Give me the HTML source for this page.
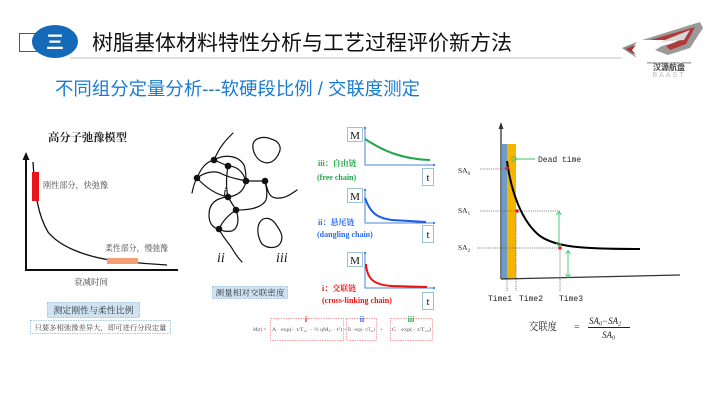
<!DOCTYPE html>
<html><head><meta charset="utf-8"><style>
html,body{margin:0;padding:0;background:#fff;}
svg{display:block;}
.cjk{font-family:"Liberation Sans","Noto Sans CJK SC",sans-serif;}
.ser{font-family:"Liberation Serif","Noto Serif CJK SC",serif;}
.mono{font-family:"Liberation Mono","Noto Sans CJK SC",monospace;}
</style></head><body>
<svg width="720" height="405" viewBox="0 0 720 405" xmlns="http://www.w3.org/2000/svg">
<rect width="720" height="405" fill="#fff"/>
<!-- header -->
<rect x="19.5" y="33.5" width="18" height="18" fill="#fff" stroke="#555" stroke-width="1"/>
<line x1="70" y1="58" x2="622" y2="58" stroke="#cfcfcf" stroke-width="1.2"/>
<ellipse cx="55" cy="41.5" rx="23" ry="16.5" fill="#1469b8"/>
<text x="55" y="48.5" text-anchor="middle" class="cjk" font-size="18" font-weight="bold" fill="#fff">三</text>
<text x="92" y="50" class="cjk" font-size="21" fill="#111" textLength="420" lengthAdjust="spacingAndGlyphs">树脂基体材料特性分析与工艺过程评价新方法</text>
<text x="55" y="95" class="cjk" font-size="18" fill="#1a7bd2" textLength="365" lengthAdjust="spacingAndGlyphs">不同组分定量分析---软硬段比例 / 交联度测定</text>
<!-- logo -->
<g>
<polygon points="622,48 637,42 630,50 637,58" fill="#8a8a8a"/>
<polygon points="626,49 636,45 632,50 636,55" fill="#a33"/>
<polygon points="642,40 700,22 703,28 690,48 668,55 655,50 662,46 684,40 660,40" fill="#9a9a9a"/>
<polygon points="650,40 695,27 686,44 670,50 666,46 680,40" fill="#b03a3a"/>
<polygon points="660,42 690,30 684,40" fill="#d8d8d8"/>
<text x="669" y="63" text-anchor="middle" class="cjk" font-size="5" fill="#999">▂▂ ▂▂ ▂▂ ▂▂</text>
<text x="669" y="70" text-anchor="middle" class="cjk" font-size="8" fill="#444" font-weight="bold">汉源航盘</text>
<text x="669" y="77" text-anchor="middle" class="cjk" font-size="7" fill="#bbb" letter-spacing="2">BAAST</text>
</g>

<!-- left panel -->
<text x="48" y="141" class="ser" font-size="11" font-weight="bold" fill="#222" textLength="79" lengthAdjust="spacingAndGlyphs">高分子弛豫模型</text>
<line x1="26" y1="157" x2="26" y2="270" stroke="#111" stroke-width="2"/>
<polygon points="26,152 22.5,160 29.5,160" fill="#111"/>
<line x1="25" y1="270" x2="178" y2="270" stroke="#111" stroke-width="2"/>
<path d="M33,162 C35,195 38,215 48,232 C60,247 85,256 110,260 C135,263 150,264 167,265" fill="none" stroke="#111" stroke-width="1.3"/>
<rect x="32" y="172" width="7" height="29" fill="#e8141c"/>
<rect x="107" y="258" width="31" height="6" fill="#f4a072"/>
<text x="43" y="188" class="ser" font-size="8.5" fill="#444" textLength="65" lengthAdjust="spacingAndGlyphs">刚性部分，快弛豫</text>
<text x="105" y="251" class="ser" font-size="8.5" fill="#444" textLength="63" lengthAdjust="spacingAndGlyphs">柔性部分，慢弛豫</text>
<text x="74" y="285" class="ser" font-size="8.5" fill="#444" textLength="34" lengthAdjust="spacingAndGlyphs">衰减时间</text>
<rect x="47.5" y="302.5" width="92" height="15" fill="#cfe3f3" stroke="#8cb8da" stroke-width="0.8" stroke-dasharray="1.5,1"/>
<text x="93.5" y="313.5" text-anchor="middle" class="ser" font-size="9" fill="#333" textLength="80" lengthAdjust="spacingAndGlyphs">测定刚性与柔性比例</text>
<rect x="30.5" y="320.5" width="140" height="13" fill="#fff" stroke="#8cb8da" stroke-width="0.8" stroke-dasharray="1.5,1"/>
<text x="100.5" y="330" text-anchor="middle" class="ser" font-size="7" fill="#444" textLength="132" lengthAdjust="spacingAndGlyphs">只要多相弛豫差异大，即可进行分段定量</text>

<!-- network -->
<g fill="none" stroke="#111" stroke-width="1.2" stroke-linecap="round">
<path d="M233,133 C226,140 220,146 214,160"/>
<path d="M214,160 L228,166"/>
<path d="M214,160 C206,162 201,168 197,178"/>
<path d="M197,178 C194,183 193,188 192,193"/>
<path d="M197,178 C205,172 215,170 222,174 C230,178 238,179 246,181"/>
<path d="M228,166 C237,166 243,172 246,181"/>
<path d="M214,160 C224,154 238,155 244,165 C246,170 246,176 246,181"/>
<path d="M246,181 L265,181"/>
<path d="M265,181 C268,190 268,197 276,198 C284,199 290,195 297,190"/>
<path d="M197,178 C208,190 218,195 228,197"/>
<path d="M228,166 C226,178 226,188 228,197"/>
<path d="M228,197 C236,196 244,192 246,181"/>
<path d="M228,197 L236,210"/>
<path d="M228,197 C214,198 209,205 209,215 C209,222 212,228 219,229"/>
<path d="M236,210 C230,214 223,220 219,229"/>
<path d="M236,210 C250,210 262,208 266,200 C268,193 266,186 265,181"/>
<path d="M236,210 C239,218 239,228 232,231 C226,232 222,231 219,229"/>
<path d="M219,229 C223,238 230,244 233,250 C236,255 239,259 242,262"/>
<path d="M253,144 C255,137 265,136 271,139 C279,141 282,147 279,153 C276,160 270,165 263,162 C257,160 252,152 253,144 Z"/>
<path d="M260,222 C264,216 271,218 275,223 C279,229 284,235 281,242 C278,249 268,249 262,244 C258,238 256,228 260,222 Z"/>
</g>
<g fill="#111">
<circle cx="214" cy="160" r="3.3"/><circle cx="228" cy="166" r="3.3"/><circle cx="197" cy="178" r="3.3"/>
<circle cx="246" cy="181" r="3.3"/><circle cx="265" cy="181" r="3.3"/><circle cx="228" cy="197" r="3.3"/>
<circle cx="236" cy="210" r="3.3"/><circle cx="219" cy="229" r="3.3"/>
</g>
<text x="223" y="196" class="ser" font-size="13" font-style="italic" fill="#111">i</text>
<text x="217" y="262" class="ser" font-size="14" font-style="italic" fill="#111">ii</text>
<text x="276" y="262" class="ser" font-size="14" font-style="italic" fill="#111">iii</text>
<rect x="212.5" y="286.5" width="75" height="12" fill="#cfe3f3" stroke="#8cb8da" stroke-width="0.8" stroke-dasharray="1.5,1"/>
<text x="250" y="295.5" text-anchor="middle" class="ser" font-size="8" fill="#333" textLength="69" lengthAdjust="spacingAndGlyphs">测量相对交联密度</text>

<!-- M-t diagrams -->
<g fill="#fff" stroke="#9cc0d6" stroke-width="1">
<rect x="347.5" y="127.5" width="15" height="14"/>
<rect x="422.5" y="168.5" width="11" height="17"/>
<rect x="347.5" y="188.5" width="15" height="14"/>
<rect x="422.5" y="225.5" width="11" height="17"/>
<rect x="347.5" y="252.5" width="15" height="14"/>
<rect x="422.5" y="292.5" width="11" height="17"/>
</g>
<g class="ser" font-size="11" fill="#111" text-anchor="middle" font-family="Liberation Serif, serif">
<text x="355" y="139">M</text><text x="428" y="181">t</text>
<text x="355" y="200">M</text><text x="428" y="238">t</text>
<text x="355" y="264">M</text><text x="428" y="305">t</text>
</g>
<g stroke="#4a86dc" stroke-width="1" fill="none">
<path d="M365,128 L365,165 L434,165"/>
<path d="M365,190 L365,223 L434,223"/>
<path d="M365,253 L365,288 L434,288"/>
</g>
<g fill="#4a86dc">
<circle cx="365" cy="128" r="1.2"/><circle cx="434" cy="165" r="1.2"/>
<circle cx="365" cy="190" r="1.2"/><circle cx="434" cy="223" r="1.2"/>
<circle cx="365" cy="253" r="1.2"/><circle cx="434" cy="288" r="1.2"/>
</g>
<path d="M365,139 C382,150 400,159 430,160" fill="none" stroke="#1ea84a" stroke-width="2"/>
<path d="M365,198 C370,212 376,218 392,220 L426,222" fill="none" stroke="#1a5cf0" stroke-width="2"/>
<path d="M366,264 C367,280 375,285 392,286 L427,287" fill="none" stroke="#ee1111" stroke-width="2"/>
<g class="ser" font-size="8" font-weight="bold">
<text x="318" y="166" fill="#1ea84a">iii：自由链</text>
<text x="317" y="180" fill="#1ea84a" font-family="Liberation Serif, serif">(free chain)</text>
<text x="318" y="225" fill="#2a6cf0">ii：悬尾链</text>
<text x="317" y="237" fill="#2a6cf0" font-family="Liberation Serif, serif">(dangling chain)</text>
<text x="322" y="291" fill="#ee1111">i：交联链</text>
<text x="322" y="303" fill="#ee1111" font-family="Liberation Serif, serif">(cross-linking chain)</text>
</g>

<!-- formula -->
<g fill="none" stroke="#f08080" stroke-width="0.7" stroke-dasharray="1.5,1">
<rect x="270.5" y="318.5" width="73" height="22"/>
<rect x="346.5" y="318.5" width="30" height="22"/>
<rect x="390.5" y="318.5" width="42" height="22"/>
</g>
<text x="306" y="322" text-anchor="middle" class="ser" font-size="8" font-weight="bold" fill="#e82020">i</text>
<text x="362" y="322" text-anchor="middle" class="ser" font-size="8" font-weight="bold" fill="#2a6cf0">ii</text>
<text x="411" y="322" text-anchor="middle" class="ser" font-size="8" font-weight="bold" fill="#1ea84a">iii</text>
<g font-family="Liberation Serif, serif" font-size="5" fill="#555">
<text x="253" y="331">M(t) =</text>
<text x="272" y="331" textLength="70" lengthAdjust="spacingAndGlyphs">A · exp(− t/T₂₁ − ½ qM₂ₗ · t²)</text>
<text x="344" y="331">+</text>
<text x="348" y="331" textLength="27" lengthAdjust="spacingAndGlyphs">B · exp(− t/T₂₂)</text>
<text x="380" y="331">+</text>
<text x="392" y="331" textLength="39" lengthAdjust="spacingAndGlyphs">C · exp(− t/T₂₃)</text>
</g>

<!-- right chart -->
<rect x="502" y="144" width="5" height="135" fill="#6d9cc6"/>
<rect x="507" y="144" width="9" height="135" fill="#f5b400"/>
<line x1="501" y1="127" x2="501" y2="279" stroke="#333" stroke-width="1.3"/>
<polygon points="501,122 498.5,129 503.5,129" fill="#333"/>
<line x1="501" y1="279" x2="680" y2="275" stroke="#333" stroke-width="1.3"/>
<g stroke="#666" stroke-width="0.8" stroke-dasharray="1.2,1" fill="none">
<line x1="480" y1="169" x2="507" y2="169"/>
<line x1="480" y1="211" x2="560" y2="211"/>
<line x1="477" y1="248" x2="560" y2="248"/>
<line x1="507" y1="279" x2="507" y2="291"/>
<line x1="516" y1="211" x2="516" y2="291"/>
<line x1="560" y1="248" x2="560" y2="291"/>
</g>
<path d="M507,161 C511,192 522,222 540,236 C556,247 580,249 640,249" fill="none" stroke="#000" stroke-width="2"/>
<g fill="#e82020"><circle cx="507" cy="168" r="1.8"/><circle cx="517" cy="211" r="1.8"/><circle cx="560" cy="248" r="1.8"/></g>
<g stroke="#3cc66a" stroke-width="0.9" fill="none">
<line x1="514" y1="159" x2="535" y2="159"/>
<circle cx="514" cy="159" r="2.3"/>
<line x1="559" y1="212" x2="559" y2="246"/>
<path d="M556.5,215 L559,211.5 L561.5,215 M556.5,243 L559,246.5 L561.5,243"/>
<line x1="568" y1="251" x2="568" y2="277"/>
<path d="M565.5,254 L568,250.5 L570.5,254 M565.5,274 L568,277.5 L570.5,274"/>
</g>
<text x="538" y="162" class="mono" font-size="8" fill="#222">Dead time</text>
<g font-family="Liberation Serif, serif" font-size="7.5" fill="#222">
<text x="458" y="173">SA<tspan font-size="5" dy="2">0</tspan></text>
<text x="458" y="213">SA<tspan font-size="5" dy="2">1</tspan></text>
<text x="458" y="250">SA<tspan font-size="5" dy="2">2</tspan></text>
</g>
<g class="mono" font-size="8" fill="#222">
<text x="488" y="301">Time1</text>
<text x="519" y="301">Time2</text>
<text x="559" y="301">Time3</text>
</g>
<text x="529" y="330" class="ser" font-size="11" fill="#222" textLength="28" lengthAdjust="spacingAndGlyphs">交联度</text>
<text x="574" y="330" font-family="Liberation Serif, serif" font-size="10" fill="#444">=</text>
<text x="589" y="324" font-family="Liberation Serif, serif" font-size="9" font-style="italic" fill="#222">SA<tspan font-size="6" dy="1.5">0</tspan><tspan dy="-1.5">−SA</tspan><tspan font-size="6" dy="1.5">2</tspan></text>
<line x1="588" y1="327.5" x2="630" y2="327.5" stroke="#222" stroke-width="0.9"/>
<text x="602" y="338" font-family="Liberation Serif, serif" font-size="9" font-style="italic" fill="#222">SA<tspan font-size="6" dy="1.5">0</tspan></text>
</svg>
</body></html>
